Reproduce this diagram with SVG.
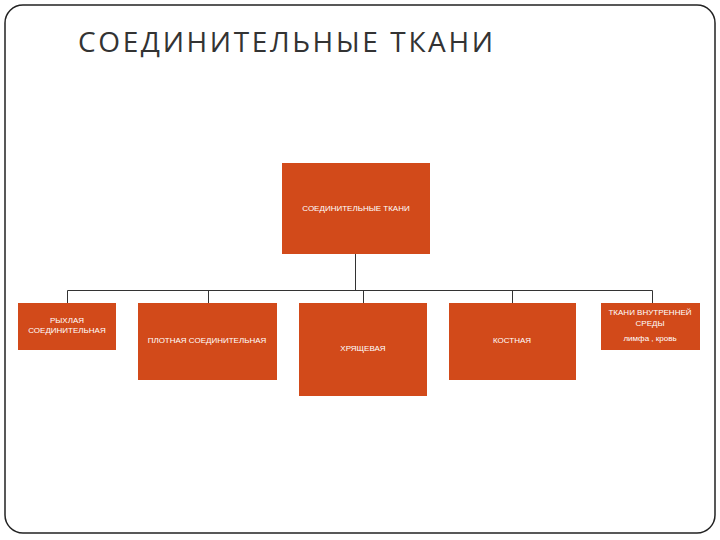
<svg xmlns="http://www.w3.org/2000/svg" width="720" height="540" viewBox="0 0 720 540">
<style>
.b{fill:#d24a1a}
.t{font-family:"Liberation Sans",Arial,sans-serif;font-size:8px;fill:#fff;text-anchor:middle}
.c{stroke:#333;stroke-width:1;fill:none}
</style>
<rect x="0" y="0" width="720" height="540" fill="#fff"/>
<rect x="5" y="5" width="710" height="528" rx="18" fill="none" stroke="#222" stroke-width="1.5"/>
<text x="78" y="52" font-family="Open Sans,sans-serif" font-size="28" fill="#333" textLength="415">СОЕДИНИТЕЛЬНЫЕ ТКАНИ</text>
<g id="connectors" class="c">
<path d="M355.5 254V290.5M67.5 290.5H652.5M67.5 290.5V303M208.5 290.5V303M363.5 290.5V303M512.5 290.5V303M652.5 290.5V303"/>
</g>
<g id="n0"><rect class="b" x="282" y="163" width="148" height="91"/><text class="t" x="356" y="211">СОЕДИНИТЕЛЬНЫЕ ТКАНИ</text></g>
<g id="n1"><rect class="b" x="18" y="303" width="98" height="47"/><text class="t" x="67" y="323">РЫХЛАЯ</text><text class="t" x="67" y="333">СОЕДИНИТЕЛЬНАЯ</text></g>
<g id="n2"><rect class="b" x="138" y="303" width="139" height="77"/><text class="t" x="207" y="343">ПЛОТНАЯ СОЕДИНИТЕЛЬНАЯ</text></g>
<g id="n3"><rect class="b" x="299" y="303" width="128" height="93"/><text class="t" x="363" y="351">ХРЯЩЕВАЯ</text></g>
<g id="n4"><rect class="b" x="449" y="303" width="127" height="77"/><text class="t" x="512" y="343">КОСТНАЯ</text></g>
<g id="n5"><rect class="b" x="601" y="303" width="99" height="47"/><text class="t" x="650" y="315">ТКАНИ ВНУТРЕННЕЙ</text><text class="t" x="650" y="326">СРЕДЫ</text><text class="t" x="650" y="341">лимфа , кровь</text></g>
</svg>
